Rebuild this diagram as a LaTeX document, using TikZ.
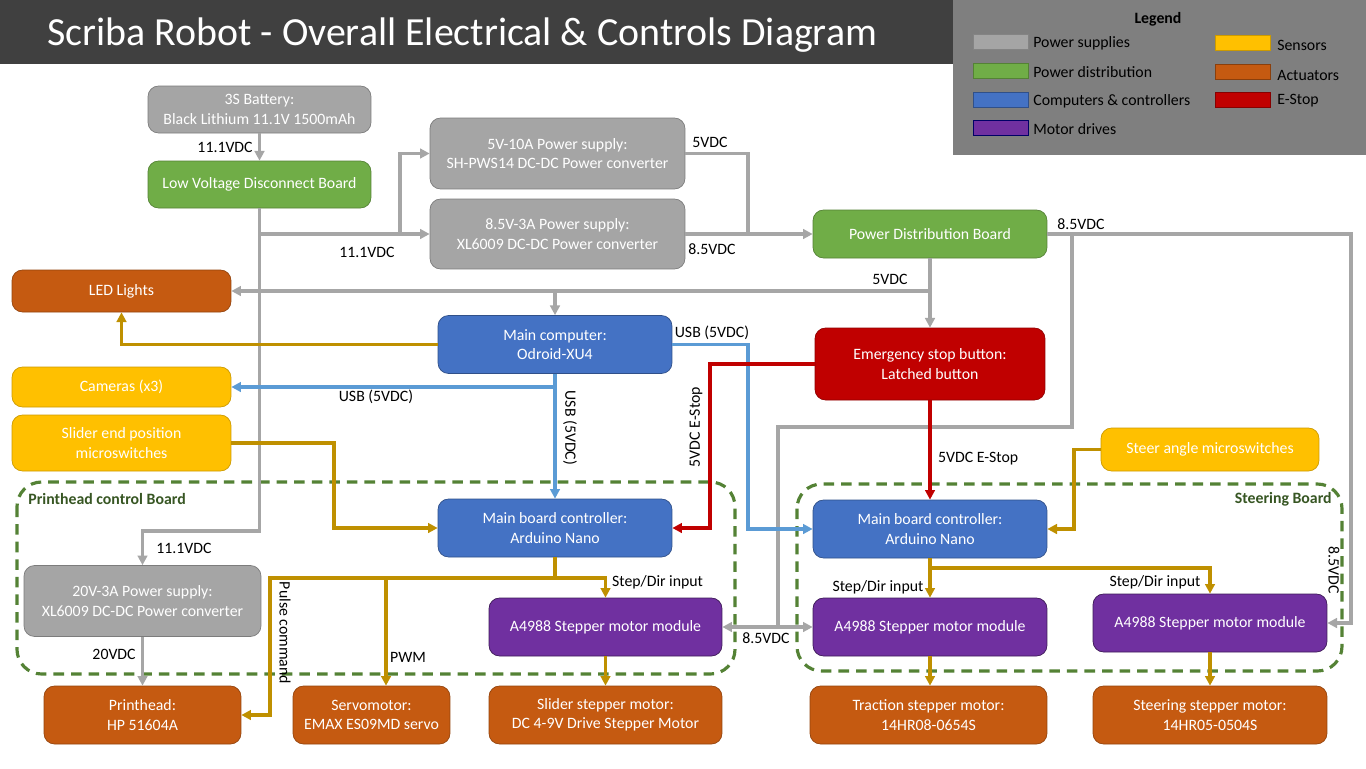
\documentclass[tikz,border=0pt]{standalone}
\usepackage{fontspec}
\setmainfont{Carlito}
\usetikzlibrary{arrows.meta}
\definecolor{headgray}{HTML}{404040}
\definecolor{legendgray}{HTML}{7F7F7F}
\definecolor{supplygray}{HTML}{A5A5A5}
\definecolor{distgreen}{HTML}{70AD47}
\definecolor{ctrlblue}{HTML}{4472C4}
\definecolor{drivepurple}{HTML}{7030A0}
\definecolor{sensoryellow}{HTML}{FFC000}
\definecolor{actorange}{HTML}{C55A11}
\definecolor{stopred}{HTML}{C00000}
\definecolor{wiregray}{HTML}{A6A6A6}
\definecolor{usbblue}{HTML}{5B9BD5}
\definecolor{siggold}{HTML}{BF9000}
\definecolor{boardgreen}{HTML}{548235}
\definecolor{boardtext}{HTML}{375623}
\tikzstyle{block}=[draw, thin, rounded corners=6pt, text=white, align=center, font=\small, inner sep=2pt]
\tikzstyle{supply}=[block, fill=supplygray, draw=supplygray!75!black]
\tikzstyle{distribution}=[block, fill=distgreen, draw=distgreen!75!black]
\tikzstyle{controller}=[block, fill=ctrlblue, draw=ctrlblue!70!black]
\tikzstyle{drive}=[block, fill=drivepurple, draw=drivepurple!55!black]
\tikzstyle{sensor}=[block, fill=sensoryellow, draw=sensoryellow!80!black]
\tikzstyle{actuator}=[block, fill=actorange, draw=actorange!75!black]
\tikzstyle{stopbutton}=[block, fill=stopred, draw=stopred!75!black]
\tikzstyle{wire}=[line width=1.8pt, -{Triangle[length=5.5pt,width=5.5pt]}]
\tikzstyle{power}=[wire, draw=wiregray]
\tikzstyle{usb}=[wire, draw=usbblue]
\tikzstyle{signal}=[wire, draw=siggold]
\tikzstyle{stopline}=[wire, draw=stopred]
\tikzstyle{volt}=[font=\small, inner sep=1pt]
\tikzstyle{board}=[draw=boardgreen, line width=1.8pt, dash pattern=on 6pt off 4pt, rounded corners=14pt]
\tikzstyle{boardname}=[font=\small\bfseries, text=boardtext, inner sep=0pt]
\tikzstyle{swatch}=[draw, thin, minimum width=1.1cm, minimum height=0.3cm, inner sep=0pt]
\tikzstyle{keytext}=[font=\small, anchor=west, inner sep=0pt]

\begin{document}
\begin{tikzpicture}[x=0.02cm, y=-0.02cm]
  \useasboundingbox (0,0) rectangle (1366,768);
  \fill[white] (0,0) rectangle (1366,768);

  % header and legend
  \fill[headgray] (0,0) rectangle (953,64);
  \node[anchor=west, text=white, font=\fontsize{22.7}{26}\selectfont, inner sep=0pt] (title) at (47,35)
    {Scriba Robot - Overall Electrical \& Controls Diagram};
  \fill[legendgray] (953,0) rectangle (1366,155);
  \node[font=\small\bfseries] (legend) at (1158,19) {Legend};
  \node[swatch, fill=supplygray, draw=supplygray!80!black] (keysupply) at (1001,42) {};
  \node[keytext] at (1033,43) {Power supplies};
  \node[swatch, fill=distgreen, draw=distgreen!75!black] (keydist) at (1001,71) {};
  \node[keytext] at (1033,72) {Power distribution};
  \node[swatch, fill=ctrlblue, draw=ctrlblue!70!black] (keyctrl) at (1001,100) {};
  \node[keytext] at (1033,101) {Computers \& controllers};
  \node[swatch, fill=drivepurple, draw=blue!40!black] (keydrive) at (1001,128) {};
  \node[keytext] at (1033,129) {Motor drives};
  \node[swatch, fill=sensoryellow, draw=sensoryellow!80!black] (keysensor) at (1243,43) {};
  \node[keytext] at (1277,45) {Sensors};
  \node[swatch, fill=actorange, draw=actorange!70!black] (keyact) at (1243,72) {};
  \node[keytext] at (1277,75) {Actuators};
  \node[swatch, fill=stopred, draw=stopred!70!black] (keystop) at (1243,100) {};
  \node[keytext] at (1277,101) {E-Stop};

  % boards
  \draw[board] (17,482) rectangle (735,674);
  \node[boardname, anchor=west] (phboard) at (28,499) {Printhead control Board};
  \draw[board] (797,484) rectangle (1342,671);
  \node[boardname, anchor=east] (stboard) at (1332,499) {Steering Board};

  % blocks
  \node[supply, minimum width=4.46cm, minimum height=0.94cm] (battery) at (259.5,109.5)
    {3S Battery:\\Black Lithium 11.1V 1500mAh};
  \node[distribution, minimum width=4.46cm, minimum height=0.94cm] (lvd) at (259.5,184.5)
    {Low Voltage Disconnect Board};
  \node[supply, minimum width=5.1cm, minimum height=1.42cm] (ps5) at (557.5,153.5)
    {5V-10A Power supply:\\SH-PWS14 DC-DC Power converter};
  \node[supply, minimum width=5.1cm, minimum height=1.4cm] (ps85) at (557.5,234)
    {8.5V-3A Power supply:\\XL6009 DC-DC Power converter};
  \node[distribution, minimum width=4.68cm, minimum height=0.96cm] (pdb) at (930,234)
    {Power Distribution Board};
  \node[actuator, minimum width=4.38cm, minimum height=0.84cm] (led) at (121.5,291) {LED Lights};
  \node[controller, minimum width=4.68cm, minimum height=1.16cm] (comp) at (555,344.5)
    {Main computer:\\Odroid-XU4};
  \node[stopbutton, minimum width=4.6cm, minimum height=1.44cm] (estop) at (930,364)
    {Emergency stop button:\\Latched button};
  \node[sensor, minimum width=4.38cm, minimum height=0.8cm] (cams) at (121.5,387) {Cameras (x3)};
  \node[sensor, minimum width=4.38cm, minimum height=1.12cm] (slsw) at (121.5,443)
    {Slider end position\\microswitches};
  \node[sensor, minimum width=4.36cm, minimum height=0.86cm] (stsw) at (1210,449.5)
    {Steer angle microswitches};
  \node[controller, minimum width=4.68cm, minimum height=1.16cm] (nano1) at (555,528)
    {Main board controller:\\Arduino Nano};
  \node[controller, minimum width=4.68cm, minimum height=1.16cm] (nano2) at (930,529)
    {Main board controller:\\Arduino Nano};
  \node[supply, minimum width=4.74cm, minimum height=1.42cm] (ps20) at (142.5,601)
    {20V-3A Power supply:\\XL6009 DC-DC Power converter};
  \node[drive, minimum width=4.66cm, minimum height=1.16cm] (drv1) at (605.5,627)
    {A4988 Stepper motor module};
  \node[drive, minimum width=4.68cm, minimum height=1.16cm] (drv2) at (930,627)
    {A4988 Stepper motor module};
  \node[drive, minimum width=4.68cm, minimum height=1.16cm] (drv3) at (1210,623)
    {A4988 Stepper motor module};
  \node[actuator, minimum width=3.94cm, minimum height=1.16cm] (ph) at (142.5,715)
    {Printhead:\\HP 51604A};
  \node[actuator, minimum width=3.14cm, minimum height=1.16cm] (servo) at (371.5,715)
    {Servomotor:\\EMAX ES09MD servo};
  \node[actuator, minimum width=4.66cm, minimum height=1.16cm] (slmot) at (605.5,715)
    {Slider stepper motor:\\DC 4-9V Drive Stepper Motor};
  \node[actuator, minimum width=4.74cm, minimum height=1.16cm] (trmot) at (928.5,715)
    {Traction stepper motor:\\14HR08-0654S};
  \node[actuator, minimum width=4.68cm, minimum height=1.16cm] (stmot) at (1210,715)
    {Steering stepper motor:\\14HR05-0504S};

  % power wiring
  \draw[power] (battery) -- node[volt, left=2pt] (v1) {11.1VDC} (lvd);
  \draw[power] (lvd.south) |- (ps85.west);
  \coordinate (split) at (400,234);
  \draw[power] (split) |- (ps5.west);
  \node[volt] (v2) at (367,252) {11.1VDC};
  \coordinate (down20) at (259.5,531);
  \draw[power] (lvd.south) -- (down20) -| (ps20.north);
  \node[volt] (v3) at (184,548) {11.1VDC};
  \draw[power] (ps20) -- node[volt, left=2pt, pos=0.35] (v4) {20VDC} (ph);
  \coordinate (merge) at (748,234);
  \draw[power, -] (ps5.east) -| (merge);
  \draw[power] (ps85.east) -- (pdb.west);
  \node[volt] (v5) at (710,142) {5VDC};
  \node[volt] (v6) at (712,249) {8.5VDC};
  \draw[power] (pdb.south) -- (estop.north);
  \coordinate (tap5) at (930,291);
  \draw[power] (tap5) -- (led.east);
  \coordinate (tapcomp) at (555,291);
  \draw[power] (tapcomp) -- (comp.north);
  \node[volt] (v7) at (890,279) {5VDC};
  \coordinate (rail) at (1351,234);
  \draw[power] (pdb.east) -- (rail) |- (drv3.east);
  \node[volt] (v8) at (1081,224) {8.5VDC};
  \node[volt, rotate=-90] (v9) at (1334,570) {8.5VDC};
  \coordinate (tap85) at (1072,234);
  \coordinate (bend85) at (778,427);
  \coordinate (drop85) at (778,627);
  \draw[power, -] (tap85) |- (bend85) -- (drop85);
  \draw[power] (drop85) -- (drv1.east);
  \draw[power] (drop85) -- (drv2.west);
  \node[volt] (v10) at (766,638) {8.5VDC};

  % usb wiring
  \draw[usb] (comp.south) -- (nano1.north);
  \coordinate (tapcam) at (555,387);
  \draw[usb] (tapcam) -- (cams.east);
  \node[volt] (u1) at (376,397) {USB (5VDC)};
  \node[volt, rotate=-90] (u2) at (570,428) {USB (5VDC)};
  \coordinate (usbdown) at (748,529);
  \draw[usb] (comp.east) -| (usbdown) -- (nano2.west);
  \node[volt] (u3) at (712,333) {USB (5VDC)};

  % e-stop wiring
  \coordinate (stopdown) at (710,528);
  \draw[stopline] (estop.west) -| (stopdown) -- (nano1.east);
  \node[volt, rotate=90] (s1) at (696,427) {5VDC E-Stop};
  \draw[stopline] (estop.south) -- (nano2.north);
  \node[volt, anchor=west] (s2) at (936,459) {5VDC E-Stop};

  % control signals
  \draw[signal] (comp.west) -| (led.south);
  \coordinate (swdown) at (334,528);
  \draw[signal] (slsw.east) -| (swdown) -- (nano1.west);
  \coordinate (stdown) at (1074,529);
  \draw[signal] (stsw.west) -| (stdown) -- (nano2.east);
  \coordinate (pbus) at (555,578);
  \coordinate (pulse) at (270,578);
  \coordinate (pwm) at (386,578);
  \draw[signal, -] (nano1.south) -- (pbus);
  \draw[signal] (pbus) -| (drv1.north);
  \draw[signal] (pbus) -- (pulse) |- (ph.east);
  \draw[signal] (pwm) -- (pwm |- servo.north);
  \node[volt, anchor=south west] (c1) at (610,591) {Step/Dir input};
  \node[volt, rotate=-90] (c2) at (285,633) {Pulse command};
  \node[volt] (c3) at (408,657) {PWM};
  \draw[signal] (drv1) -- (slmot);
  \coordinate (sbus) at (930,568);
  \draw[signal] (nano2.south) -- (drv2.north);
  \draw[signal] (sbus) -| (drv3.north);
  \node[volt] (c4) at (878,587) {Step/Dir input};
  \node[volt] (c5) at (1155,582) {Step/Dir input};
  \draw[signal] (drv2) -- (drv2 |- trmot.north);
  \draw[signal] (drv3) -- (stmot);
\end{tikzpicture}
\end{document}
